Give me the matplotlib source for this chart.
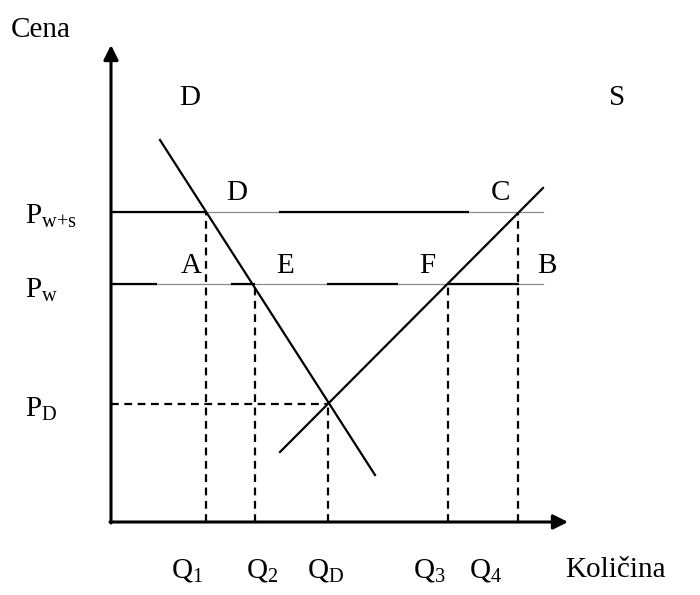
import matplotlib.pyplot as plt

plt.rcParams["font.family"] = ["Liberation Serif", "DejaVu Serif"]
plt.rcParams["mathtext.fontset"] = "custom"
plt.rcParams["mathtext.rm"] = "Liberation Serif"
plt.rcParams["mathtext.it"] = "Liberation Serif"

# quantities (horizontal) and prices (vertical), in diagram units
q_labels = ["Q$_1$", "Q$_2$", "Q$_\\mathrm{D}$", "Q$_3$", "Q$_4$"]
q_values = [9.5, 14.4, 21.7, 33.7, 40.7]
q_label_x = [7.6, 15.1, 21.5, 31.8, 37.5]

p_labels = ["P$_{\\mathrm{w{+}s}}$", "P$_\\mathrm{w}$", "P$_\\mathrm{D}$"]
p_values = [31.0, 23.8, 11.8]
p_label_y = [30.6, 23.2, 11.3]

# demand and supply lines (end points)
demand_q = [4.9, 26.4]
demand_p = [38.2, 4.7]
supply_q = [16.9, 43.2]
supply_p = [7.0, 33.4]

# solid parts of the price lines (rest is thin grey)
pws_segments = [(0, 9.5), (16.8, 35.8)]
pw_segments = [(0, 4.6), (12.0, 14.4), (21.6, 28.7), (33.7, 40.8)]
price_line_end = 43.2

# point labels
point_names = ["D", "S", "D", "C", "A", "E", "F", "B"]
point_x = [7.9, 50.6, 12.6, 38.9, 8.0, 17.4, 31.6, 43.6]
point_y = [42.4, 42.4, 32.9, 32.9, 25.6, 25.6, 25.6, 25.6]

fig = plt.figure(figsize=(7, 5.95), dpi=100)
ax = fig.add_axes([0, 0, 1, 1])
ax.set_xlim(-11.1, 58.9)
ax.set_ylim(-7.3, 52.2)
ax.axis("off")

fs = 21
dash = (0, (3.5, 2.5))

# axes with arrows
ax.annotate("", xy=(0, 47.7), xytext=(0, -0.1),
            arrowprops=dict(arrowstyle="-|>", lw=2.2, color="k", mutation_scale=22, shrinkA=0, shrinkB=0))
ax.annotate("", xy=(45.7, 0), xytext=(-0.1, 0),
            arrowprops=dict(arrowstyle="-|>", lw=2.2, color="k", mutation_scale=22, shrinkA=0, shrinkB=0))

# thin grey price lines
for p in p_values[:2]:
    ax.plot([0, price_line_end], [p, p], color="#8a8a8a", lw=0.9)
for a, b in pws_segments:
    ax.plot([a, b], [p_values[0], p_values[0]], color="k", lw=1.6, solid_capstyle="butt")
for a, b in pw_segments:
    ax.plot([a, b], [p_values[1], p_values[1]], color="k", lw=1.6, solid_capstyle="butt")

# dashed guides
ax.plot([0, q_values[2]], [p_values[2], p_values[2]], color="k", lw=1.6, ls=dash)
ax.plot([q_values[0]] * 2, [0, p_values[0]], color="k", lw=1.6, ls=dash)
ax.plot([q_values[1]] * 2, [0, p_values[1]], color="k", lw=1.6, ls=dash)
ax.plot([q_values[2]] * 2, [0, p_values[2]], color="k", lw=1.6, ls=dash)
ax.plot([q_values[3]] * 2, [0, p_values[1]], color="k", lw=1.6, ls=dash)
ax.plot([q_values[4]] * 2, [0, p_values[0]], color="k", lw=1.6, ls=dash)

# demand and supply
ax.plot(demand_q, demand_p, color="k", lw=1.6)
ax.plot(supply_q, supply_p, color="k", lw=1.6)

# labels
ax.text(-7.0, 49.2, "Cena", fontsize=fs, ha="center", va="center")
for lbl, x in zip(q_labels, q_label_x):
    ax.text(x, -4.8, lbl, fontsize=fs, ha="center", va="center")
ax.text(45.4, -4.8, "Količina", fontsize=fs, ha="left", va="center")
for lbl, y in zip(p_labels, p_label_y):
    ax.text(-8.6, y, lbl, fontsize=fs, ha="left", va="center")
for name, x, y in zip(point_names, point_x, point_y):
    ax.text(x, y, name, fontsize=fs, ha="center", va="center")

fig.savefig("out.png", dpi=100)
